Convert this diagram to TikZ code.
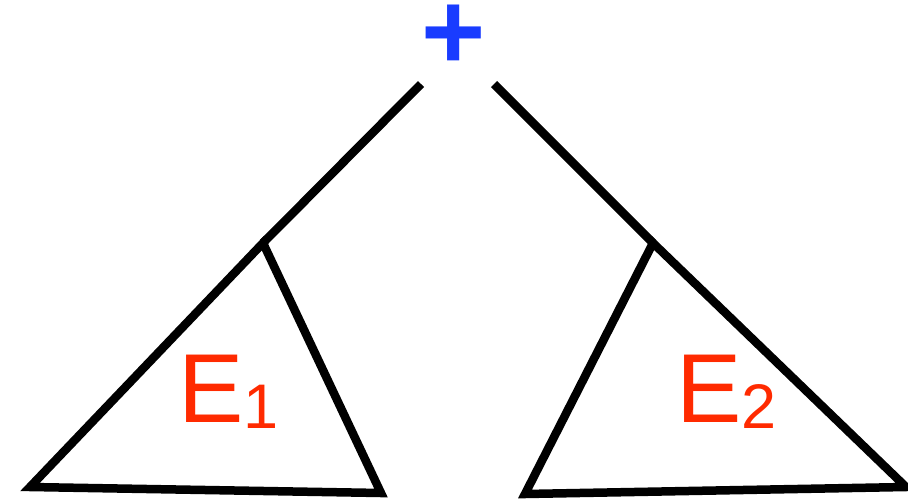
\documentclass[tikz,border=0pt]{standalone}
\usepackage{fontspec}
\setmainfont{Liberation Sans}
\definecolor{plusblue}{RGB}{25,60,255}
\definecolor{labred}{RGB}{255,42,0}
\begin{document}
\begin{tikzpicture}[x=1pt,y=-1pt,
  edge/.style={line width=8.5pt,black,line cap=butt},
  tri/.style={line width=8.5pt,black,line join=miter},
  lab/.style={text=labred,inner sep=0pt,anchor=base west,font=\fontsize{98}{98}\selectfont}]
\useasboundingbox (0,0) rectangle (908,499);
\node[text=plusblue,inner sep=0pt,anchor=base,font=\bfseries\fontsize{110}{110}\selectfont] (plus) at (454,69) {\smash{+}};
\coordinate (l0) at (421,84);
\coordinate (r0) at (494,84);
\coordinate (la) at (263,243);
\coordinate (lb) at (30,487);
\coordinate (lc) at (381,493);
\coordinate (ra) at (653,243);
\coordinate (rb) at (525,494);
\coordinate (rc) at (906,487);
\draw[edge] (l0) -- (la);
\draw[edge] (r0) -- (ra);
\draw[tri] (la) -- (lb) -- (lc) -- cycle;
\draw[tri] (ra) -- (rb) -- (rc) -- cycle;
\node[lab] (e1) at (178,422) {E\raisebox{-6pt}{\fontsize{63}{63}\selectfont 1}};
\node[lab] (e2) at (676,422) {E\raisebox{-6pt}{\fontsize{63}{63}\selectfont 2}};
\end{tikzpicture}
\end{document}
